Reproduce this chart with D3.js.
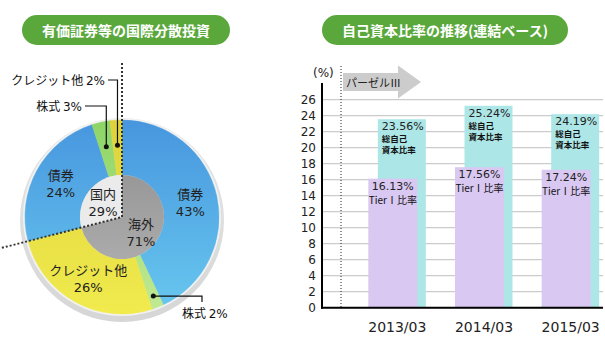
<!DOCTYPE html>
<html>
<head>
<meta charset="utf-8">
<script src="https://cdn.jsdelivr.net/npm/d3@7"></script>
<style>
  body { margin: 0; background: #fff; }
  text { font-family: "DejaVu Sans", "Noto Sans CJK JP", sans-serif; }
</style>
</head>
<body>
<div class="chart"></div>
<script>
// pie data (outer ring, clockwise from 12 o'clock)
var pieNames = ["債券", "株式", "クレジット他", "債券", "株式", "クレジット他"];
var pieValues = [43, 2, 26, 24, 3, 2];
var pieKinds = ["bond", "stock", "credit", "bond", "stock", "credit"];
// inner circle
var innerNames = ["海外", "国内"];
var innerValues = [71, 29];

// bar data
var years = ["2013/03", "2014/03", "2015/03"];
var totalRatio = [23.56, 25.24, 24.19];
var tier1Ratio = [16.13, 17.56, 17.24];
var yTicks = [0, 2, 4, 6, 8, 10, 12, 14, 16, 18, 20, 22, 24, 26];

var width = 605;
var height = 359;
var cjk = '"Noto Sans CJK JP", sans-serif';

var svg = d3
  .select(".chart")
  .append("svg")
  .attr("width", width)
  .attr("height", height);

var defs = svg.append("defs");

// gradients are in the pie group's coordinates (centre = 0,0)
const addGradient = (id, top, bottom, y1, y2) => {
  let g = defs
    .append("linearGradient")
    .attr("id", id)
    .attr("gradientUnits", "userSpaceOnUse")
    .attr("x1", 0).attr("x2", 0)
    .attr("y1", y1).attr("y2", y2);
  g.append("stop").attr("offset", "0%").attr("stop-color", top);
  g.append("stop").attr("offset", "100%").attr("stop-color", bottom);
};

addGradient("gBond", "#4796de", "#68c8ef", -97, 97);
addGradient("gCredit", "#ddd23a", "#f1eb4e", -97, 97);
addGradient("gStock", "#8dd567", "#c2e992", -97, 97);
addGradient("gInner", "#989898", "#ababab", -42, 42);
addGradient("gShadow", "#e6e6e6", "#d6d6d6", -100, 106);

const titlePill = (x, w, label) => {
  svg.append("rect")
    .attr("x", x).attr("y", 15)
    .attr("width", w).attr("height", 30)
    .attr("rx", 15)
    .style("fill", "#5aa83c");
  svg.append("text")
    .attr("x", x + w / 2).attr("y", 35.5)
    .attr("text-anchor", "middle")
    .style("font-family", cjk)
    .style("font-weight", "bold")
    .style("font-size", "14px")
    .style("fill", "#fff")
    .text(label);
};

titlePill(22, 208, "有価証券等の国際分散投資");
titlePill(322, 246, "自己資本比率の推移(連結ベース)");

// ---------- pie ----------
const drawPie = () => {
  var cx = 122, cy = 217;
  var rOuter = 97, rInner = 42;
  var g = svg.append("g").attr("transform", `translate(${cx},${cy})`);

  g.append("circle")
    .attr("cx", 0).attr("cy", 3)
    .attr("r", rOuter + 5)
    .style("fill", "url(#gShadow)");
  g.append("circle")
    .attr("cx", 0).attr("cy", 0)
    .attr("r", rOuter + 2)
    .style("fill", "#f2f2f2");

  var pie = d3.pie().sort(null).value(d => d);
  var outer = pie(pieValues);
  var inner = pie(innerValues);
  var arc = d3.arc().innerRadius(rInner).outerRadius(rOuter);
  var innerArc = d3.arc().innerRadius(0).outerRadius(rInner);
  var fills = { bond: "url(#gBond)", stock: "url(#gStock)", credit: "url(#gCredit)" };

  g.selectAll("path.outer")
    .data(outer)
    .enter()
    .append("path")
    .attr("class", "outer")
    .attr("d", arc)
    .style("fill", (d, i) => fills[pieKinds[i]])
    .style("stroke", (d, i) => fills[pieKinds[i]])
    .style("stroke-width", 0.5);

  g.selectAll("path.inner")
    .data(inner)
    .enter()
    .append("path")
    .attr("class", "inner")
    .attr("d", innerArc)
    .style("fill", (d, i) => (i == 0 ? "url(#gInner)" : "#ebebeb"));

  // labels inside big slices
  var labelArc = d3.arc().innerRadius(70).outerRadius(70);
  outer.forEach((d, i) => {
    if (d.value < 10) return;
    let c = labelArc.centroid(d);
    let t = g.append("text")
      .attr("text-anchor", "middle")
      .style("fill", "#222")
      .style("font-size", "13px");
    t.append("tspan").attr("x", c[0]).attr("y", c[1] - 3)
      .style("font-family", cjk).text(pieNames[i]);
    t.append("tspan").attr("x", c[0]).attr("y", c[1] + 14).text(pieValues[i] + "%");
  });

  var midArc = d3.arc().innerRadius(24).outerRadius(24);
  inner.forEach((d, i) => {
    let c = midArc.centroid(d);
    let t = g.append("text")
      .attr("text-anchor", "middle")
      .style("fill", "#222")
      .style("font-size", "13px");
    t.append("tspan").attr("x", c[0]).attr("y", c[1] - 3)
      .style("font-family", cjk).text(innerNames[i]);
    t.append("tspan").attr("x", c[0]).attr("y", c[1] + 14).text(innerValues[i] + "%");
  });

  // dotted split line between domestic / overseas
  var splitLen = 154;
  var a = inner[1].startAngle;
  var pts = [
    [0, -splitLen],
    [0, 0],
    [Math.sin(a) * splitLen, -Math.cos(a) * splitLen]
  ];
  g.append("path")
    .attr("d", d3.line()(pts))
    .style("fill", "none")
    .style("stroke", "#333")
    .style("stroke-width", 2)
    .style("stroke-dasharray", "2,2");

  // callouts for the small slices
  var dotArc = d3.arc().innerRadius(72).outerRadius(72);
  var callouts = [
    { i: 5, lx: 105 - cx, ly: 80 - cy, side: "left" },
    { i: 4, lx: 82 - cx, ly: 106 - cy, side: "left" },
    { i: 1, lx: 202 - cx, ly: 302 - cy, side: "right" }
  ];
  callouts.forEach(co => {
    let d = outer[co.i];
    let p = dotArc.centroid(d);
    if (co.side == "right") {
      p = d3.arc().innerRadius(85).outerRadius(85).centroid(d);
    }
    let path;
    if (co.side == "left") {
      path = [[p[0], p[1]], [p[0], co.ly], [co.lx + 3, co.ly]];
    } else {
      path = [[p[0], p[1]], [co.lx, p[1]], [co.lx, co.ly]];
    }
    g.append("path")
      .attr("d", d3.line()(path))
      .style("fill", "none")
      .style("stroke", "#111")
      .style("stroke-width", 1.2);
    g.append("circle")
      .attr("cx", p[0]).attr("cy", p[1])
      .attr("r", 2.5)
      .style("fill", "#111");
    let t = g.append("text")
      .style("fill", "#111")
      .style("font-size", "12px");
    if (co.side == "left") {
      t.attr("x", co.lx).attr("y", co.ly + 4.5).attr("text-anchor", "end");
    } else {
      t.attr("x", co.lx - 20).attr("y", co.ly + 15.5).attr("text-anchor", "start");
    }
    t.append("tspan").style("font-family", cjk).text(pieNames[co.i] + " ");
    t.append("tspan").text(pieValues[co.i] + "%");
  });
};

// ---------- bars ----------
const drawBars = () => {
  var x0 = 322, x1 = 603;
  var y = d3.scaleLinear().domain([0, 26]).range([307.7, 99.7]);
  var x = d3.scaleBand().domain(years).range([354, 614]);
  var barW = 48;

  svg.selectAll("line.grid")
    .data(yTicks)
    .enter()
    .append("line")
    .attr("class", "grid")
    .attr("x1", x0).attr("x2", x1)
    .attr("y1", d => y(d)).attr("y2", d => y(d))
    .style("stroke", "#cccccc")
    .style("stroke-width", 1.2);

  svg.selectAll("text.ytick")
    .data(yTicks)
    .enter()
    .append("text")
    .attr("class", "ytick")
    .attr("x", 316)
    .attr("y", d => y(d) + 4.5)
    .attr("text-anchor", "end")
    .style("font-size", "12px")
    .style("fill", "#222")
    .text(d => d);

  svg.append("text")
    .attr("x", 313).attr("y", 77)
    .style("font-size", "12px")
    .style("fill", "#222")
    .text("(%)");

  // basel III dotted line + arrow
  svg.append("line")
    .attr("x1", 341).attr("x2", 341)
    .attr("y1", 66).attr("y2", y(0))
    .style("stroke", "#222")
    .style("stroke-width", 1)
    .style("stroke-dasharray", "1,2");

  svg.append("path")
    .attr("d", d3.line()([[343, 73], [398, 73], [398, 65.5], [421, 82], [398, 98.5], [398, 91], [343, 91]]) + "Z")
    .style("fill", "#cccccc");
  svg.append("text")
    .attr("x", 346).attr("y", 86.5)
    .style("font-family", cjk)
    .style("font-size", "11px")
    .style("fill", "#222")
    .text("パーゼルⅢ");

  var g = svg.selectAll("g.year")
    .data(years)
    .enter()
    .append("g")
    .attr("class", "year");

  var tealX = d => x(d) + x.bandwidth() / 2 + 4.5 - barW / 2;
  var purpleMid = d => x(d) + x.bandwidth() / 2 - 4.5;

  g.append("rect")
    .attr("x", tealX)
    .attr("y", (d, i) => y(totalRatio[i]))
    .attr("width", barW)
    .attr("height", (d, i) => y(0) - y(totalRatio[i]))
    .style("fill", "#ade6e6");

  g.append("text")
    .attr("x", d => tealX(d) + 4)
    .attr("y", (d, i) => y(totalRatio[i]) + 11)
    .style("font-size", "11px")
    .style("fill", "#222")
    .text((d, i) => totalRatio[i].toFixed(2) + "%");

  g.append("text")
    .attr("x", d => tealX(d) + 4)
    .attr("y", (d, i) => y(totalRatio[i]) + 23)
    .style("font-family", cjk)
    .style("font-weight", "bold")
    .style("font-size", "8.5px")
    .style("fill", "#111")
    .text("総自己");

  g.append("text")
    .attr("x", d => tealX(d) + 4)
    .attr("y", (d, i) => y(totalRatio[i]) + 34)
    .style("font-family", cjk)
    .style("font-weight", "bold")
    .style("font-size", "8.5px")
    .style("fill", "#111")
    .text("資本比率");

  g.append("rect")
    .attr("x", d => purpleMid(d) - barW / 2 - 0.5)
    .attr("y", (d, i) => y(tier1Ratio[i]))
    .attr("width", barW + 1)
    .attr("height", (d, i) => y(0) - y(tier1Ratio[i]))
    .style("fill", "#d9c8f2");

  g.append("text")
    .attr("x", purpleMid)
    .attr("y", (d, i) => y(tier1Ratio[i]) + 11)
    .attr("text-anchor", "middle")
    .style("font-size", "11px")
    .style("fill", "#222")
    .text((d, i) => tier1Ratio[i].toFixed(2) + "%");

  g.append("text")
    .attr("x", purpleMid)
    .attr("y", (d, i) => y(tier1Ratio[i]) + 25)
    .attr("text-anchor", "middle")
    .style("font-family", cjk)
    .style("font-size", "10px")
    .style("fill", "#111")
    .text("TierⅠ比率");

  g.append("text")
    .attr("x", d => x(d) + x.bandwidth() / 2)
    .attr("y", 332)
    .attr("text-anchor", "middle")
    .style("font-size", "14px")
    .style("fill", "#222")
    .text(d => d);

  // axes lines
  svg.append("line")
    .attr("x1", x0).attr("x2", x0)
    .attr("y1", 83).attr("y2", y(0) + 1)
    .style("stroke", "#000")
    .style("stroke-width", 2);
  svg.append("line")
    .attr("x1", x0 - 1).attr("x2", x1)
    .attr("y1", y(0)).attr("y2", y(0))
    .style("stroke", "#000")
    .style("stroke-width", 2);
};

drawPie();
drawBars();
</script>
</body>
</html>
